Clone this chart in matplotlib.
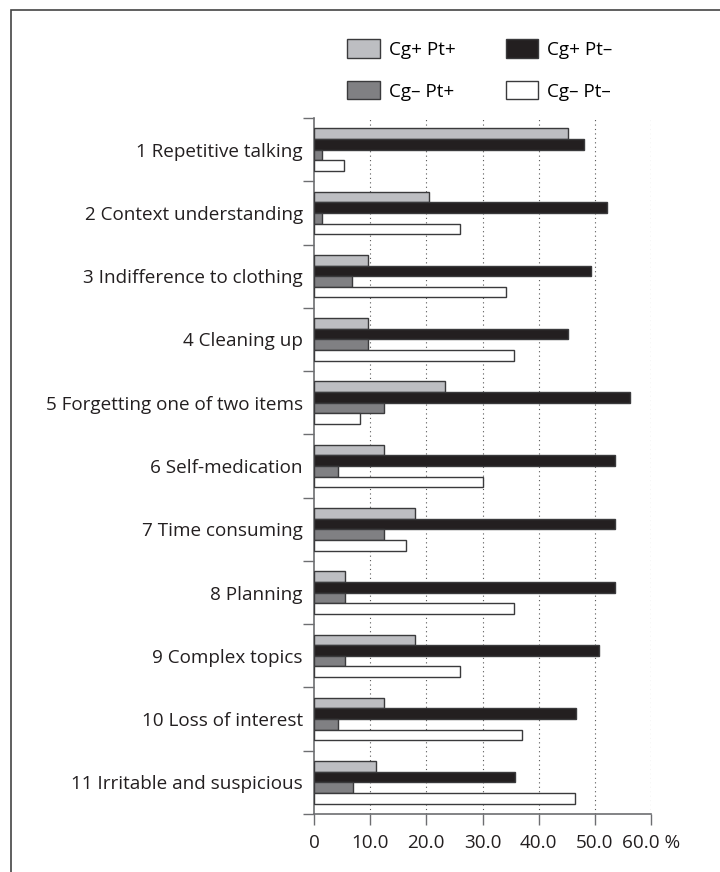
#!/usr/bin/env python3

'''
Grouped horizontal bars: share of each item per caregiver/patient group
'''

import numpy as np
import matplotlib
matplotlib.use('Agg')
import matplotlib.pyplot as plt
from matplotlib.patches import Rectangle

plt.rcParams['font.family'] = ['Open Sans', 'DejaVu Sans']

items = ['1 Repetitive talking', '2 Context understanding',
         '3 Indifference to clothing', '4 Cleaning up',
         '5 Forgetting one of two items', '6 Self-medication',
         '7 Time consuming', '8 Planning', '9 Complex topics',
         '10 Loss of interest', '11 Irritable and suspicious']

series_names = ['Cg+ Pt+', 'Cg+ Pt\u2013', 'Cg\u2013 Pt+', 'Cg\u2013 Pt\u2013']

cgp_ptp = [45.2, 20.5, 9.6, 9.6, 23.4, 12.5, 17.9, 5.5, 17.9, 12.5, 11.0]
cgp_ptm = [48.0, 52.2, 49.3, 45.3, 56.2, 53.5, 53.5, 53.5, 50.7, 46.6, 35.7]
cgm_ptp = [1.5, 1.5, 6.8, 9.6, 12.5, 4.2, 12.5, 5.5, 5.5, 4.3, 7.0]
cgm_ptm = [5.4, 26.0, 34.2, 35.6, 8.2, 30.1, 16.4, 35.6, 26.0, 37.1, 46.5]

xticks = [0, 10, 20, 30, 40, 50, 60]
xtick_labels = ['0', '10.0', '20.0', '30.0', '40.0', '50.0', '60.0 %']

colors = ['#bdbec2', '#231f20', '#808083', '#ffffff']
edge = '#3a3a3c'
axis_grey = '#6d6e71'
fs = 13.6


def main():
    fig = plt.figure(figsize=(7.2, 8.72), dpi=100)
    ax = fig.add_axes([0.4361, 0.0665, 0.4681, 0.7982])

    data = [cgp_ptp, cgp_ptm, cgm_ptp, cgm_ptm]
    y = np.arange(len(items))
    h = 0.168
    offsets = (np.arange(4) - 1.5) * h
    bars = []
    for vals, off, col, name in zip(data, offsets, colors, series_names):
        b = ax.barh(y + off, vals, height=h, color=col, edgecolor=edge,
                    linewidth=1.0, label=name, zorder=3)
        bars.append(b)

    ax.set_xlim(0, 60)
    ax.set_ylim(len(items) - 0.5, -0.5)

    ax.set_yticks(y)
    ax.set_yticklabels(items, fontsize=fs, color='#231f20')
    ax.tick_params(axis='y', which='major', length=0, pad=8)
    ax.set_yticks(np.arange(len(items) + 1) - 0.5, minor=True)
    ax.tick_params(axis='y', which='minor', direction='out', length=8,
                   width=1.0, color=axis_grey)

    ax.set_xticks(xticks)
    ax.set_xticklabels(xtick_labels, fontsize=fs, color='#231f20')
    ax.tick_params(axis='x', direction='out', length=8, width=1.0,
                   color=axis_grey, pad=6.5)

    for s in ['top', 'right']:
        ax.spines[s].set_visible(False)
    for s in ['left', 'bottom']:
        ax.spines[s].set_color(axis_grey)
        ax.spines[s].set_linewidth(1.2)

    for xv in xticks[1:]:
        ax.axvline(xv, color='#555555', linestyle=(0, (1, 3)),
                   linewidth=0.8, zorder=1)

    # legend order so that rows read Cg+Pt+ / Cg+Pt-, Cg-Pt+ / Cg-Pt-
    order = [0, 2, 1, 3]
    fig.legend([bars[i] for i in order],
               [series_names[i] for i in order],
               ncol=2, loc='upper left',
               bbox_to_anchor=(338 / 720, 1 - 30 / 872),
               frameon=False, fontsize=fs, borderpad=0,
               handlelength=1.7, handleheight=1.1,
               handletextpad=0.48, columnspacing=2.66,
               labelspacing=1.18)

    # outer frame, cut off at right and bottom like the source
    fig.patches.append(Rectangle((11 / 720, -0.05), 1.0, 1.05 - 10 / 872,
                                 transform=fig.transFigure, fill=False,
                                 edgecolor='#444444', linewidth=1.2))

    fig.savefig('out.png', dpi=100)


if __name__ == '__main__':
    main()
